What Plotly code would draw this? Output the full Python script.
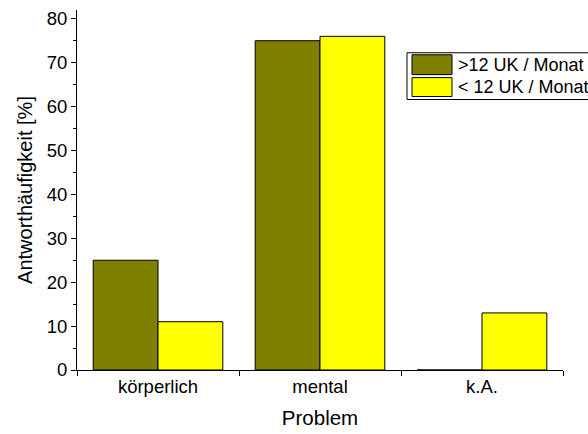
import plotly.graph_objects as go

# Response frequencies by problem type
problems = ["körperlich", "mental", "k.A."]
series_names = [">12 UK / Monat", "< 12 UK / Monat"]
values_over = [25, 75, 0]
values_under = [11, 76, 13]
colors = ["#808000", "#ffff00"]

W, H = 588, 434
L, R, T, B = 77, 25, 8, 64
PW, PH = W - L - R, H - T - B


def px(x):
    return (x - L) / PW


def py(y):
    return 1 - (y - T) / PH


font = dict(family="Liberation Sans, Arial, sans-serif", size=18, color="black")

fig = go.Figure()
for name, vals, col in zip(series_names, [values_over, values_under], colors):
    fig.add_trace(go.Bar(
        x=problems, y=vals, name=name,
        marker=dict(color=col, line=dict(color="black", width=1)),
        showlegend=False,
    ))

fig.update_layout(
    width=W, height=H,
    margin=dict(l=L, r=R, t=T, b=B),
    paper_bgcolor="white", plot_bgcolor="white",
    barmode="group", bargap=0.2, bargroupgap=0,
    font=font,
)
fig.update_xaxes(
    type="category", range=[-0.5, 2.5],
    showline=True, linecolor="black", linewidth=1,
    ticks="outside", tickson="boundaries", ticklen=5, tickcolor="black",
    showgrid=False, zeroline=False,
    tickfont=dict(size=18.5),
    title=dict(text="Problem", font=dict(size=20.5), standoff=14),
)
fig.update_yaxes(
    range=[0, 82], tickvals=[0, 10, 20, 30, 40, 50, 60, 70, 80],
    showline=True, linecolor="black", linewidth=1,
    ticks="outside", ticklen=5, tickcolor="black",
    minor=dict(dtick=5, tick0=0, ticks="outside", ticklen=3, tickcolor="black"),
    showgrid=False, zeroline=False,
    tickfont=dict(size=18.5),
    title=dict(text="Antworthäufigkeit [%]", font=dict(size=20), standoff=8),
)

# Legend box with swatches and labels
fig.add_shape(type="rect", xref="paper", yref="paper",
              x0=px(407), x1=px(600), y0=py(51), y1=py(98),
              line=dict(color="black", width=1), fillcolor="white", layer="above")
swatch_rows = [(53, 73), (76, 95)]
for (y0, y1), name, col in zip(swatch_rows, series_names, colors):
    fig.add_shape(type="rect", xref="paper", yref="paper",
                  x0=px(412), x1=px(452), y0=py(y0), y1=py(y1),
                  line=dict(color="black", width=1), fillcolor=col, layer="above")
    fig.add_annotation(xref="paper", yref="paper", x=px(456), y=py((y0 + y1) / 2),
                       text=name, showarrow=False, xanchor="left", yanchor="middle",
                       font=dict(size=18))

fig.write_html("out.html")
